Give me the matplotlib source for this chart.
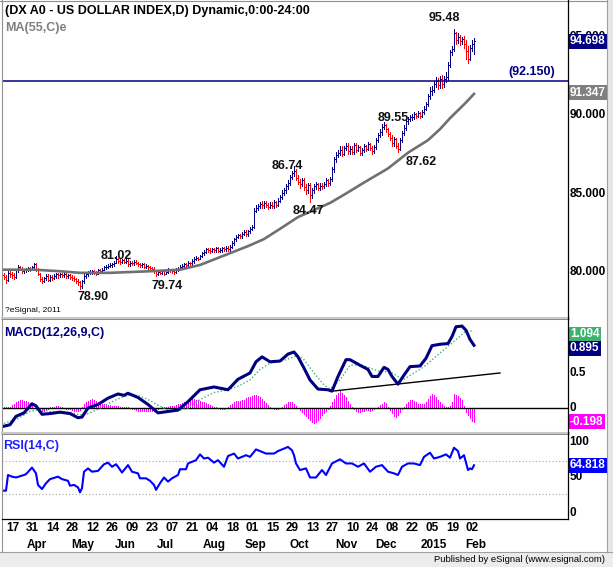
import numpy as np
import pandas as pd
import matplotlib
matplotlib.use('Agg')
import matplotlib.pyplot as plt
from matplotlib.transforms import blended_transform_factory
from matplotlib.lines import Line2D
from matplotlib.patches import Rectangle

plt.rcParams['font.family'] = ['Liberation Sans', 'DejaVu Sans']

# daily bars 11 Mar 2014 .. 3 Feb 2015 (weekdays)
dates = pd.bdate_range('2014-03-11', '2015-02-03')

closes = [
    79.70, 79.50, 79.95, 79.85,
    79.80, 79.70, 80.10, 80.35, 80.20,
    80.05, 80.10, 80.15, 80.25, 80.20,
    80.35, 80.50, 80.15, 79.90, 79.55,
    79.45, 79.60, 79.75, 79.50, 79.70,
    79.65, 79.75, 79.85, 79.80, 79.85,
    79.80, 79.90, 79.75, 79.80, 79.70,
    79.65, 79.55, 79.45, 79.35, 79.10,
    79.40, 79.75, 79.85, 79.95, 80.00,
    80.05, 79.95, 79.90, 80.10, 80.05,
    80.15, 80.30, 80.35, 80.40, 80.45,
    80.50, 80.60, 80.85, 80.70, 80.65,
    80.75, 80.65, 80.70, 80.50, 80.60,
    80.55, 80.65, 80.60, 80.50, 80.45,
    80.50, 80.35, 80.40, 80.30, 80.25,
    80.20, 80.05, 79.85, 80.00, 79.95,
    80.05, 79.90, 80.00, 80.15, 80.10,
    80.05, 80.00, 80.15, 80.20, 80.35,
    80.40, 80.50, 80.45, 80.60, 80.55,
    80.70, 80.85, 80.90, 80.85, 81.00,
    81.20, 81.30, 81.45, 81.40, 81.35,
    81.45, 81.40, 81.50, 81.35, 81.40,
    81.50, 81.45, 81.55, 81.45, 81.60,
    81.85, 82.10, 82.25, 82.35, 82.30,
    82.45, 82.55, 82.40, 82.60, 82.75,
    82.90, 83.90, 84.10, 84.20, 84.35,
    84.25, 84.40, 84.30, 84.15, 84.30,
    84.20, 84.45, 84.30, 84.55, 84.75,
    85.05, 85.20, 85.45, 85.70, 86.05,
    86.30, 86.45, 86.00, 85.75, 85.60,
    85.85, 85.40, 85.20, 85.55, 84.90,
    85.20, 85.45, 85.60, 85.35, 85.50,
    85.45, 85.60, 85.85, 85.65, 85.90,
    86.55, 87.20, 87.45, 87.60, 87.80,
    87.55, 87.90, 88.05, 87.70, 87.85,
    87.65, 88.10, 87.80, 87.95, 87.60,
    87.75, 88.00, 87.85, 88.15, 87.90,
    87.70, 87.95, 88.40, 88.70, 88.90,
    89.25, 89.35, 89.10, 88.80, 88.55,
    88.20, 88.45, 88.05, 87.85, 88.40,
    88.85, 89.20, 89.60, 89.75, 89.85,
    89.90, 90.05, 89.95, 90.10, 89.95,
    90.20, 90.40, 90.70, 91.20, 91.50,
    91.60, 92.00, 92.15, 91.90, 92.30,
    92.00, 92.30, 92.40, 93.20, 94.00,
    94.20, 95.20, 94.80, 95.00, 94.70,
    94.85, 94.55, 94.10, 93.60, 94.30,
    94.50, 94.70,
]
highs = [
    79.95, 79.80, 80.10, 80.05,
    80.00, 79.95, 80.20, 80.45, 80.40,
    80.30, 80.20, 80.25, 80.35, 80.35,
    80.40, 80.55, 80.55, 80.25, 79.95,
    79.70, 79.70, 79.85, 79.85, 79.80,
    79.80, 79.85, 79.95, 79.95, 79.95,
    79.95, 80.00, 79.95, 79.90, 79.90,
    79.80, 79.75, 79.65, 79.55, 79.40,
    79.50, 79.85, 79.95, 80.05, 80.10,
    80.15, 80.15, 80.05, 80.20, 80.20,
    80.25, 80.40, 80.45, 80.50, 80.55,
    80.60, 80.70, 81.02, 80.90, 80.80,
    80.85, 80.85, 80.80, 80.80, 80.70,
    80.70, 80.75, 80.75, 80.65, 80.60,
    80.60, 80.55, 80.50, 80.45, 80.40,
    80.35, 80.30, 80.15, 80.05, 80.10,
    80.15, 80.10, 80.10, 80.25, 80.20,
    80.20, 80.15, 80.25, 80.30, 80.45,
    80.50, 80.60, 80.60, 80.70, 80.65,
    80.80, 80.95, 81.00, 80.95, 81.10,
    81.30, 81.40, 81.55, 81.55, 81.50,
    81.55, 81.55, 81.60, 81.60, 81.50,
    81.60, 81.60, 81.65, 81.65, 81.70,
    81.95, 82.20, 82.35, 82.45, 82.45,
    82.55, 82.70, 82.65, 82.70, 82.85,
    83.00, 84.05, 84.25, 84.35, 84.45,
    84.50, 84.55, 84.55, 84.40, 84.45,
    84.45, 84.60, 84.55, 84.70, 84.90,
    85.20, 85.35, 85.60, 85.85, 86.20,
    86.45, 86.74, 86.55, 86.20, 85.95,
    86.00, 86.00, 85.60, 85.70, 85.65,
    85.35, 85.60, 85.75, 85.70, 85.65,
    85.65, 85.75, 86.00, 85.95, 86.05,
    86.70, 87.35, 87.65, 87.80, 88.00,
    88.00, 88.05, 88.20, 88.20, 88.00,
    88.00, 88.25, 88.20, 88.10, 88.05,
    87.90, 88.15, 88.10, 88.30, 88.20,
    88.00, 88.10, 88.55, 88.85, 89.10,
    89.40, 89.55, 89.45, 89.20, 88.95,
    88.70, 88.60, 88.55, 88.20, 88.55,
    89.00, 89.35, 89.75, 89.90, 90.00,
    90.05, 90.20, 90.15, 90.25, 90.20,
    90.35, 90.55, 90.85, 91.35, 91.80,
    91.85, 92.20, 92.45, 92.35, 92.50,
    92.55, 92.50, 92.75, 93.40, 94.15,
    94.40, 95.48, 95.30, 95.20, 95.10,
    95.00, 95.05, 94.80, 94.40, 94.45,
    94.75, 94.90,
]
lows = [
    79.55, 79.30, 79.45, 79.70,
    79.65, 79.55, 79.65, 80.00, 80.10,
    79.95, 79.95, 80.00, 80.05, 80.05,
    80.10, 80.25, 80.05, 79.80, 79.40,
    79.30, 79.35, 79.50, 79.40, 79.40,
    79.50, 79.55, 79.65, 79.65, 79.70,
    79.70, 79.70, 79.60, 79.65, 79.55,
    79.50, 79.45, 79.30, 79.20, 78.90,
    79.00, 79.30, 79.65, 79.75, 79.85,
    79.90, 79.85, 79.80, 79.85, 79.95,
    79.95, 80.10, 80.20, 80.25, 80.30,
    80.35, 80.40, 80.55, 80.60, 80.50,
    80.55, 80.55, 80.55, 80.40, 80.40,
    80.45, 80.45, 80.50, 80.40, 80.35,
    80.35, 80.25, 80.25, 80.20, 80.15,
    80.10, 79.95, 79.74, 79.80, 79.85,
    79.85, 79.80, 79.85, 79.95, 80.00,
    79.95, 79.90, 79.95, 80.05, 80.15,
    80.25, 80.30, 80.35, 80.40, 80.45,
    80.45, 80.60, 80.75, 80.75, 80.80,
    80.95, 81.10, 81.20, 81.30, 81.20,
    81.25, 81.30, 81.30, 81.25, 81.25,
    81.30, 81.35, 81.35, 81.35, 81.35,
    81.50, 81.75, 82.00, 82.15, 82.15,
    82.20, 82.35, 82.30, 82.30, 82.50,
    82.65, 82.80, 83.80, 83.95, 84.05,
    84.10, 84.10, 84.15, 84.00, 84.05,
    84.05, 84.10, 84.15, 84.20, 84.45,
    84.65, 84.90, 85.05, 85.30, 85.55,
    85.90, 86.10, 85.85, 85.60, 85.35,
    85.45, 85.25, 85.00, 85.05, 84.47,
    84.70, 85.05, 85.30, 85.20, 85.20,
    85.30, 85.35, 85.50, 85.50, 85.55,
    85.80, 86.40, 87.00, 87.30, 87.45,
    87.40, 87.45, 87.75, 87.55, 87.55,
    87.50, 87.55, 87.65, 87.70, 87.45,
    87.45, 87.65, 87.70, 87.75, 87.75,
    87.55, 87.60, 87.85, 88.30, 88.60,
    88.75, 89.10, 88.95, 88.65, 88.40,
    88.05, 88.05, 87.90, 87.62, 87.75,
    88.30, 88.70, 89.05, 89.45, 89.60,
    89.70, 89.75, 89.80, 89.85, 89.80,
    89.85, 90.05, 90.30, 90.60, 91.05,
    91.30, 91.45, 91.80, 91.65, 91.70,
    91.75, 91.80, 92.10, 92.25, 93.05,
    93.80, 94.10, 94.50, 94.60, 94.45,
    94.50, 94.30, 93.55, 93.30, 93.50,
    94.05, 93.90,
]
# FX session opens at the prior close
opens = [79.80] + closes[:-1]

ma_idx = [0, 15, 28, 38, 53, 73, 88, 98, 105, 115, 122, 130, 138, 147, 155, 163, 171,
          180, 186, 192, 197, 202, 207, 212, 218, 223, 227, 231, 235]
ma_val = [80.15, 80.15, 80.05, 79.95, 79.95, 80.05, 80.15, 80.45, 80.80, 81.30, 81.65,
          82.10, 82.75, 83.50, 83.95, 84.40, 85.00, 85.70, 86.15, 86.60, 87.10, 87.60,
          88.00, 88.40, 89.10, 89.80, 90.30, 90.80, 91.347]

macd_idx = [0, 3, 6, 10, 14, 16, 19, 23, 28, 33, 37, 39, 42, 47, 52, 57, 60, 62, 67, 72,
            77, 82, 87, 92, 98, 105, 112, 117, 123, 126, 129, 133, 138, 142, 145, 147, 150, 153, 157, 162,
            164, 167, 171, 173, 178, 182, 184, 187, 190, 192, 194, 197, 200, 203, 208, 211, 214, 218, 222, 224,
            226, 229, 231, 233, 235]
macd_val = [-0.26, -0.24, -0.12, -0.07, 0.06, 0.03, -0.09, -0.08, -0.06, -0.08,
            -0.14, -0.13, 0.00, 0.05, 0.14, 0.20, 0.18, 0.21, 0.15, 0.05,
            -0.07, -0.05, -0.03, 0.09, 0.26, 0.30, 0.26, 0.41, 0.50, 0.66,
            0.73, 0.66, 0.67, 0.77, 0.80, 0.73, 0.57, 0.40, 0.27, 0.26,
            0.24, 0.45, 0.69, 0.69, 0.61, 0.55, 0.45, 0.45, 0.58, 0.55,
            0.45, 0.34, 0.47, 0.59, 0.60, 0.71, 0.89, 0.91, 0.92, 1.02,
            1.16, 1.17, 1.11, 0.98, 0.895]

sig_idx = [0, 7, 13, 18, 23, 28, 33, 38, 42, 47, 52, 57, 62, 67, 72, 77, 82, 87, 92, 98,
           105, 112, 117, 123, 128, 133, 140, 147, 150, 155, 160, 163, 168, 173, 178, 183, 188, 193, 197, 200,
           205, 210, 217, 222, 227, 231, 233, 235]
sig_val = [-0.22, -0.15, -0.05, -0.02, -0.05, -0.06, -0.06, -0.10, -0.08, -0.02,
           0.06, 0.13, 0.18, 0.18, 0.12, 0.04, -0.03, -0.04, 0.00, 0.12,
           0.22, 0.26, 0.31, 0.40, 0.55, 0.64, 0.68, 0.75, 0.69, 0.50,
           0.33, 0.27, 0.40, 0.61, 0.62, 0.57, 0.52, 0.52, 0.45, 0.41,
           0.50, 0.59, 0.76, 0.88, 1.00, 1.10, 1.10, 1.094]

hist = [
    0.02, 0.02, 0.01, 0.02, 0.04, 0.06, 0.08, 0.10, 0.11, 0.11,
    0.10, 0.10, 0.09, 0.07, 0.04, 0.00, -0.02, -0.04, -0.05, -0.05,
    -0.04, -0.03, -0.01, 0.01, 0.02, 0.02, 0.03, 0.03, 0.02, 0.02,
    0.00, -0.01, -0.02, -0.02, -0.03, -0.04, -0.05, -0.05, -0.03, 0.01,
    0.05, 0.08, 0.10, 0.12, 0.13, 0.12, 0.10, 0.08, 0.06, 0.05,
    0.05, 0.04, 0.04, 0.04, 0.03, 0.03, 0.03, 0.03, 0.02, 0.02,
    0.02, 0.01, 0.01, 0.00, -0.01, -0.02, -0.03, -0.04, -0.05, -0.05,
    -0.05, -0.05, -0.05, -0.04, -0.04, -0.04, -0.03, -0.01, 0.00, 0.01,
    0.02, 0.02, 0.02, 0.03, 0.03, 0.03, 0.04, 0.05, 0.06, 0.07,
    0.08, 0.10, 0.11, 0.12, 0.13, 0.13, 0.12, 0.11, 0.10, 0.09,
    0.08, 0.07, 0.05, 0.04, 0.03, 0.02, 0.01, 0.00, -0.01, -0.01,
    -0.01, 0.00, 0.02, 0.04, 0.06, 0.08, 0.10, 0.10, 0.10, 0.11,
    0.12, 0.14, 0.15, 0.16, 0.17, 0.18, 0.18, 0.17, 0.15, 0.13,
    0.10, 0.07, 0.04, 0.02, 0.00, -0.01, -0.02, -0.01, 0.00, 0.02,
    0.04, 0.06, 0.08, 0.09, 0.08, 0.06, 0.03, 0.00, -0.03, -0.06,
    -0.08, -0.11, -0.14, -0.17, -0.20, -0.21, -0.20, -0.17, -0.14, -0.10,
    -0.07, -0.04, -0.02, 0.03, 0.08, 0.13, 0.18, 0.22, 0.24, 0.22,
    0.19, 0.15, 0.10, 0.06, 0.02, -0.02, -0.04, -0.06, -0.06, -0.05,
    -0.04, -0.03, -0.03, -0.04, -0.03, -0.02, 0.00, 0.02, 0.04, 0.06,
    0.08, 0.07, 0.02, -0.03, -0.07, -0.11, -0.13, -0.10, -0.06, -0.02,
    0.02, 0.06, 0.09, 0.12, 0.11, 0.10, 0.08, 0.06, 0.05, 0.05,
    0.06, 0.09, 0.13, 0.17, 0.20, 0.18, 0.15, 0.11, 0.08, 0.05,
    0.03, 0.02, 0.02, 0.03, 0.08, 0.20, 0.19, 0.17, 0.14, 0.11,
    0.03, -0.06, -0.10, -0.15, -0.19, -0.198,
]

rsi_idx = [0, 1, 2, 4, 6, 10, 11, 14, 16, 17, 19, 21, 23, 27, 29, 32, 33, 35, 37, 38,
           39, 40, 42, 44, 47, 50, 52, 54, 56, 57, 59, 62, 64, 67, 68, 71, 73, 75, 76, 78,
           80, 82, 84, 87, 88, 91, 92, 96, 98, 100, 102, 105, 107, 110, 112, 115, 117, 121, 123, 126,
           131, 135, 137, 142, 144, 145, 146, 148, 151, 153, 156, 159, 161, 164, 168, 171, 174, 177, 180, 183,
           186, 189, 192, 195, 197, 199, 202, 205, 208, 210, 213, 215, 218, 221, 223, 225, 227, 228, 230, 232,
           233, 234, 235]
rsi_val = [34, 34, 53, 51, 50, 53, 54, 62, 55, 41, 36, 43, 48, 51, 48, 46, 40, 41, 38, 32,
           37, 57, 61, 57, 58, 66, 68, 63, 66, 63, 56, 65, 57, 55, 49, 49, 46, 41, 35, 43,
           50, 45, 49, 53, 60, 60, 67, 71, 78, 73, 74, 68, 71, 63, 76, 79, 73, 77, 75, 84,
           79, 79, 82, 87, 83, 77, 67, 59, 61, 50, 50, 59, 53, 67, 72, 67, 67, 63, 67, 57,
           63, 65, 57, 55, 53, 63, 67, 67, 65, 75, 80, 73, 75, 78, 74, 86, 82, 73, 77, 59,
           61, 60, 64.818]

level_line = 92.150
trend_idx = [164, 248]
trend_val = [0.24, 0.50]

pivot_dates = ['2015-01-20', '2014-12-02', '2014-09-30', '2014-10-10',
               '2014-12-11', '2014-05-28', '2014-05-02', '2014-06-25']
pivot_vals = [95.48, 89.55, 86.74, 84.47, 87.62, 81.02, 78.90, 79.74]
pivot_off = [(-10, 11), (9, 4), (-7, 0), (-2, -9), (23, -10), (0, 0), (13, -8), (11, -10)]

W, H = 613, 567
NAVY = '#000080'

fig = plt.figure(figsize=(W / 100, H / 100), dpi=100)


def rect(top, bottom):
    return [2 / W, 1 - bottom / H, 566 / W, (bottom - top) / H]


ax1 = fig.add_axes(rect(2, 316))
ax2 = fig.add_axes(rect(319, 431), sharex=ax1)
ax3 = fig.add_axes(rect(434, 519), sharex=ax1)
for ax in (ax1, ax2, ax3):
    for s in ax.spines.values():
        s.set_visible(False)
    ax.set_xticks([])
    ax.set_yticks([])
ax1.set_xlim(-1, 282)
ax1.set_ylim(77.2, 97.2)
ax2.set_ylim(-0.329, 1.271)
ax3.set_ylim(-0.33, 102.7)

# --- price bars
idx = np.arange(len(closes))
c = np.array(closes)
o = np.array(opens)
cols = np.where(c >= o, NAVY, '#ff0000')
ax1.vlines(idx, lows, highs, colors=cols, lw=0.72, antialiased=False)
ax1.hlines(o, idx - 0.45, idx, colors=cols, lw=0.72, antialiased=False)
ax1.hlines(c, idx, idx + 0.45, colors=cols, lw=0.72, antialiased=False)
ax1.plot(ma_idx, ma_val, color='#707070', lw=1.9)
ax1.axhline(level_line, color=NAVY, lw=1.1)
for d, v, off in zip(pivot_dates, pivot_vals, pivot_off):
    i = dates.get_loc(pd.Timestamp(d))
    ax1.annotate(f'{v:.2f}', (i, v), xytext=off, textcoords='offset pixels',
                 ha='center', va='center', fontsize=9, fontweight='bold', color='#101010')

# --- MACD
ax2.vlines(idx, 0, hist, colors='#ff00ff', lw=0.72, antialiased=False)
ax2.axhline(0, color='black', lw=1.0)
ax2.plot(trend_idx, trend_val, color='black', lw=1.0)
ax2.plot(sig_idx, sig_val, color='#3cb371', lw=1.0, ls=(0, (1, 1.5)))
ax2.plot(macd_idx, macd_val, color=NAVY, lw=2.2)

# --- RSI
for lv in (70, 30):
    ax3.axhline(lv, color='#a8a8a8', lw=0.8, ls=(0, (1, 2)))
ax3.plot(rsi_idx, rsi_val, color='#0000ff', lw=1.5)

# --- right axis labels
bold = dict(fontsize=8.5, fontweight='bold')
for ax, ticks, fmt in ((ax1, [80, 85, 90, 95], '{:.3f}'), (ax2, [0, 0.5], '{:g}')):
    tr = blended_transform_factory(ax.transAxes, ax.transData)
    for t in ticks:
        ax.text(1.003, t, fmt.format(t), transform=tr, ha='left', va='center', color='black', **bold)
tr3 = blended_transform_factory(ax3.transAxes, ax3.transData)
ax3.text(1.003, 100, '100', transform=tr3, ha='left', va='top', **bold)
ax3.text(1.003, 50, '50', transform=tr3, ha='left', va='center', **bold)
ax3.text(1.003, 0, '0', transform=tr3, ha='left', va='bottom', **bold)


def tag(ax, val, txt, fc, dy=0):
    ax.annotate(txt, (1.0, val), xycoords=blended_transform_factory(ax.transAxes, ax.transData),
                xytext=(2, dy), textcoords='offset pixels', ha='left', va='center', color='white',
                bbox=dict(boxstyle='square,pad=0.12', fc=fc, ec='none'), zorder=5, **bold)


tag(ax1, closes[-1] - 0.002, '94.698', NAVY)
tag(ax1, ma_val[-1], '91.347', '#808080', dy=1)
tag(ax2, sig_val[-1], '1.094', '#3cb371', dy=-3)
tag(ax2, macd_val[-1], '0.895', NAVY, dy=-3)
tag(ax2, hist[-1], '-0.198', '#ff00ff')
tag(ax3, rsi_val[-1], '64.818', '#0000ff')

# --- x axis labels
xt = blended_transform_factory(ax3.transData, fig.transFigure)
for d in pd.date_range('2014-03-17', '2015-02-02', freq='14D'):
    i = dates.get_loc(d)
    ax3.text(i - 3, 1 - 528 / H, d.strftime('%d'), transform=xt, ha='left', va='center',
             clip_on=False, **bold)
for m in pd.date_range('2014-04-01', '2015-02-01', freq='MS'):
    i = int(np.searchsorted(dates, m))
    lab = '2015' if m.month == 1 else m.strftime('%b')
    ax3.text(i - 3.5, 1 - 545 / H, lab, transform=xt, ha='left', va='center',
             clip_on=False, **bold)


# --- frame / captions in pixel coordinates
def ft(x, y, s, **kw):
    fig.text(x / W, 1 - y / H, s, **kw)


def fl(x0, y0, x1, y1, **kw):
    fig.add_artist(Line2D([x0 / W, x1 / W], [1 - y0 / H, 1 - y1 / H], **kw))


fig.add_artist(Rectangle((0, 0), 1, 15 / H, transform=fig.transFigure, fc='#ececec', ec='none'))
fig.add_artist(Rectangle((607 / W, 15 / H), 6 / W, 1, transform=fig.transFigure, fc='#e6e6e6', ec='none'))
fl(0, 552, W, 552, color='#a0a0a0', lw=0.8)
fl(607, 0, 607, 552, color='#a0a0a0', lw=0.8)
fl(2, 0, 2, 552, color='#909090', lw=0.8)
fl(0, 0.5, 607, 0.5, color='#909090', lw=0.8)
for yy in (317.5, 432.5):
    fl(2, yy, 568, yy, color='#c8c8c8', lw=2.2)
    fl(2, yy + 1, 568, yy + 1, color='#808080', lw=0.6)
fl(568, 0, 568, 519, color='black', lw=0.9)
fl(2, 519, 568, 519, color='black', lw=0.9)

ft(5, 11, '(DX A0 - US DOLLAR INDEX,D) Dynamic,0:00-24:00', fontsize=9, fontweight='bold', va='center')
ft(5, 28, 'MA(55,C)e', fontsize=9, fontweight='bold', color='#808080', va='center')
ft(555, 72, '(92.150)', fontsize=9, fontweight='bold', color=NAVY, ha='right', va='center')
ft(5, 310, '?eSignal, 2011', fontsize=6, va='center')
ft(4, 333, 'MACD(12,26,9,C)', fontsize=9, fontweight='bold', color=NAVY, va='center')
ft(3, 446, 'RSI(14,C)', fontsize=9, fontweight='bold', color='#2020ff', va='center')
ft(605, 560, 'Published by eSignal (www.esignal.com)', fontsize=6.8, ha='right', va='center')

fig.savefig('out.png', dpi=100)
